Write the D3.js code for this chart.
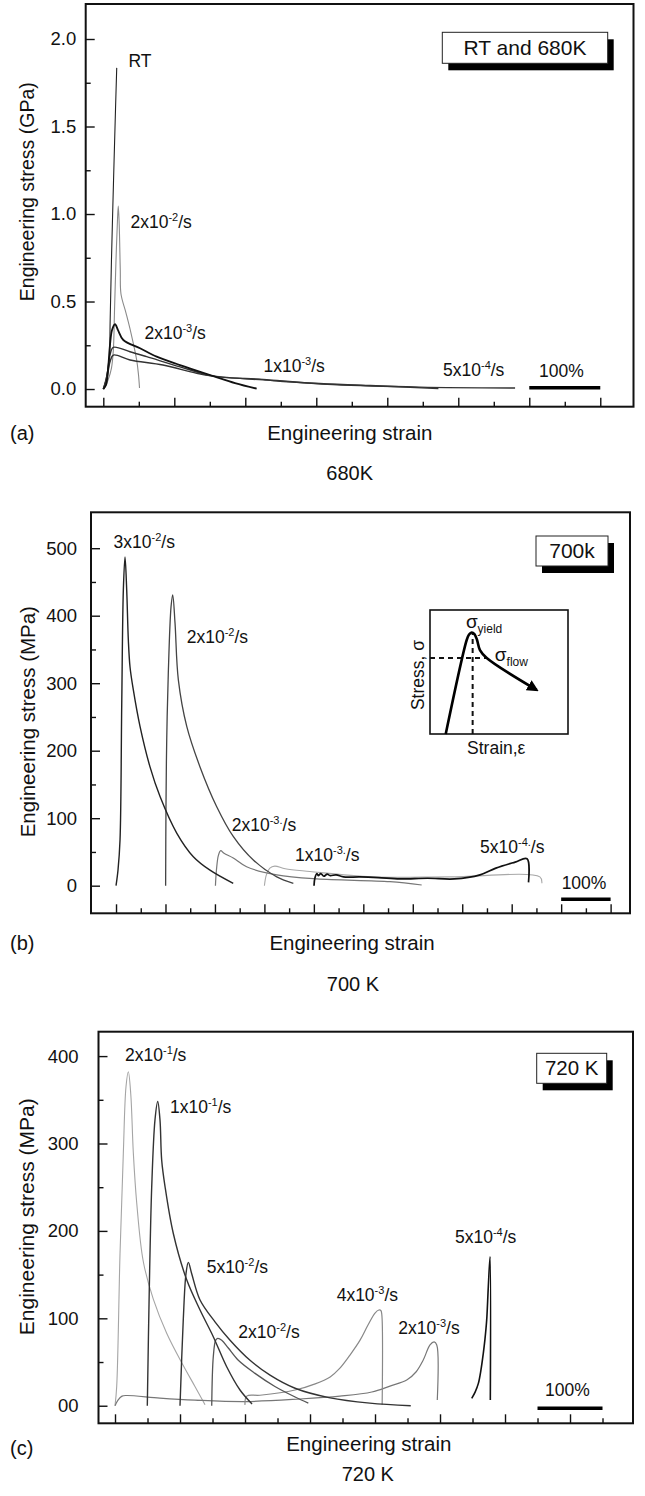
<!DOCTYPE html>
<html>
<head>
<meta charset="utf-8">
<script src="https://cdn.jsdelivr.net/npm/d3@7"></script>
<style>
  body { margin: 0; background: #fff; }
  svg { display: block; }
  text { font-family: "Liberation Sans", Arial, Helvetica, sans-serif; fill: #111; }
</style>
</head>
<body>
<svg id="chart" width="645" height="1496"></svg>
<script>
// strain in %, stress in GPa (a) or MPa (b, c)

// (a) RT and 680K
const rt680 = [[0,0],[2.5,0.03],[5,0.08],[7.5,0.14],[8.5,0.17],[9.7,0.4],[11.5,0.74],[14.4,1.19],[17.2,1.6],[18.9,1.835]];
const a2e2 = [[1,0],[6.6,0.05],[11.5,0.12],[14.1,0.22],[15.8,0.45],[17.9,0.74],[20,0.97],[21.1,1.046],[22.4,0.94],[23.9,0.68],[24.9,0.543],[32,0.434],[39,0.32],[47,0.166],[49.6,0.08],[51,0.006]];
const a2e3 = [[0,0],[3.8,0.023],[6.6,0.109],[9.4,0.251],[12.3,0.337],[16.5,0.37],[20.7,0.337],[28.2,0.28],[51.7,0.233],[75.2,0.185],[108,0.137],[155,0.074],[185.5,0.034],[216,0.002]];
const a1e3 = [[0,0],[5.2,0.08],[9.4,0.194],[14.1,0.238],[37.6,0.213],[61.1,0.185],[108,0.127],[155,0.074],[225,0.055],[296,0.033],[376,0.02],[472,0.002]];
const a5e4 = [[0,0],[5.2,0.063],[9.4,0.154],[14.1,0.194],[37.6,0.166],[84,0.137],[131.5,0.09],[155,0.074],[225,0.052],[323.5,0.026],[446,0.011],[580,0.006]];

// (b) 700 K
const b3e2 = [[0,0],[4,23],[8.1,68],[11.5,265],[14.8,438],[18.2,487],[21.6,438],[24.9,364],[28.3,324],[35,290],[48.5,236],[68.7,176],[89,132],[122.7,78],[156.3,43],[190,23],[237,3.5]];
const b2e2 = [[100.3,0],[101,117],[102.5,216],[105.7,315],[111.2,413],[114.6,431],[119.3,389],[126,305],[143,236],[169.8,176],[203.6,117],[237,73],[277.6,38],[325,13],[358.5,3.5]];
const b2e3 = [[201,0],[203,23],[207,45],[211.7,52],[218.4,48],[237,41],[264,28],[325,16],[406,10],[554,6],[618,1]];
const b1e3 = [[300,0],[304,16],[311,26],[321,29],[342,25],[392,21],[518,13],[675,13],[857,13],[861,3.5]];
const b5e4 = [[400.3,0],[402,11],[406,18],[409,15],[414,18],[420,14],[427,17],[433,15],[445,16],[460,13],[493,13],[530,12],[574,10],[630,11],[684,10],[736,16],[768,26],[807,35],[831,40],[834,5]];

// (c) 720 K
const c2e1 = [[0,0],[2.6,22],[7.7,174],[12.8,289],[16.9,365],[20.5,382],[24.2,357],[28.2,289],[33.4,232],[43.5,165],[58.9,122],[79.5,83],[105,46],[123,22],[138.5,1]];
const c1e1 = [[49.7,0],[52.8,136],[56.5,251],[61.5,327],[65.7,348],[69.2,327],[71.8,281],[76.9,251],[89.7,197],[110.3,144],[130.8,109.5],[151.2,79],[171.8,44.6],[192.3,18],[210.8,2]];
const c5e2 = [[100,0],[105,98],[109.2,151],[112.8,164],[118,151],[130.8,121],[153.8,96],[177,75],[207.7,52],[238.5,35],[277,20],[331,9],[392,3],[455,0]];
const c2e2 = [[148.8,0],[151.2,56],[154.9,75],[158,77],[164.2,75],[174.3,66],[189.7,52],[215.4,37],[246,22],[277,10],[297.4,3]];
const c4e3 = [[200,1],[202.6,11],[223,12],[277,18],[308,25],[331,33],[346,43],[361.5,58],[377,75],[389,92],[400,106],[406,109.5],[409,109],[410.5,104],[411,1]];
const c2e3 = [[0,0],[4.6,6.5],[10.8,11],[18,11.7],[69,8.8],[123,6.5],[200,4.8],[284.6,7.7],[346,11],[395,15.7],[423,22.5],[448.8,29.4],[463,38.6],[474,52],[484.6,69.5],[491,73],[495,69.5],[495.8,6.5]];
const c5e4 = [[548.8,8.5],[554,15.6],[559,25.6],[563,41],[566.6,60],[569,75],[571.8,98],[574.3,136],[577,170.5],[577.4,6.5]];

// tick values / labels
const yTicksA = [0, 0.5, 1, 1.5, 2];
const yLabelsA = ['0.0', '0.5', '1.0', '1.5', '2.0'];
const yTicksB = [0, 100, 200, 300, 400, 500];
const yLabelsB = ['0', '100', '200', '300', '400', '500'];
const yTicksC = [0, 100, 200, 300, 400];
const yLabelsC = ['00', '100', '200', '300', '400'];

// curve labels: [base, superscript, tail, strain, stress]
const labelsA = [['RT','','',35.5,1.874],['2x10','-2','/s',38.3,0.954],['2x10','-3','/s',58,0.32],['1x10','-3','/s',225.6,0.133],['5x10','-4','/s',478.5,0.109],['100%','','',613.7,0.103]];
const labelsB = [['3x10','-2','/s',-4.9,508.7],['2x10','-2','/s',143,368.9],['2x10','-3.','/s',234,90],['1x10','-3.','/s',362,45.5],['5x10','-4.','/s',736,57.8],['100%','','',901,3.6]];
const labelsC = [['2x10','-1','/s',15.4,401.3],['1x10','-1','/s',84.6,341.4],['5x10','-2','/s',141,158.4],['2x10','-2','/s',189.7,84.7],['4x10','-3','/s',341,126.7],['2x10','-3','/s',435.8,88.6],['5x10','-4','/s',523,193.4],['100%','','',661.5,18]];

// inset schematic (arbitrary units 0..10)
const insetCurve = [[1.14,0],[2.66,7.58],[2.83,8.02],[3.02,8.19],[3.22,8.06],[3.41,7.58],[3.62,6.77],[4.11,6.13],[7.73,3.55]];

const svg = d3.select('#chart');
svg.append('rect').attr('width', 645).attr('height', 1496).attr('fill', '#fff');

const panels = [
  {
    frame: { x0: 85.7, x1: 633.5, y0: 4, y1: 406.7 },
    xDomain: [-24.8, 746.8], yDomain: [-0.101, 2.2], xMax: 700,
    yTicks: yTicksA, yLabels: yLabelsA, yMinorStep: 0.25, labelPad: 9.5,
    series: [
      { d: rt680, c: '#222', w: 1.1 },
      { d: a2e2, c: '#8a8a8a', w: 1.1 },
      { d: a5e4, c: '#333', w: 1.4 },
      { d: a1e3, c: '#333', w: 1.4 },
      { d: a2e3, c: '#111', w: 1.8 }
    ],
    labels: labelsA, bar: [600, 700, 0.007],
    box: { x: 442.3, y: 32.3, w: 165.4, h: 31, text: 'RT and 680K', fs: 21 },
    yTitle: 'Engineering stress (GPa)', yTitlePos: [27, 191.7], yTitleFs: 19.5,
    xTitlePos: [349.8, 432.7], letter: '(a)', letterPos: [10, 432.7],
    caption: '680K', captionPos: [349.7, 473]
  },
  {
    frame: { x0: 91, x1: 630, y0: 512.3, y1: 913.3 },
    xDomain: [-50.6, 1039.2], yDomain: [-40.9, 553.2], xMax: 1000,
    yTicks: yTicksB, yLabels: yLabelsB, yMinorStep: 50, labelPad: 14,
    series: [
      { d: b1e3, c: '#a8a8a8', w: 1.1 },
      { d: b2e3, c: '#777', w: 1.2 },
      { d: b2e2, c: '#444', w: 1.3 },
      { d: b3e2, c: '#222', w: 1.4 },
      { d: b5e4, c: '#111', w: 1.7 }
    ],
    labels: labelsB, bar: [900, 1000, -20],
    box: { x: 536, y: 536, w: 72, h: 30, text: '700k', fs: 21 },
    yTitle: 'Engineering stress (MPa)', yTitlePos: [28, 721.7], yTitleFs: 20.5,
    xTitlePos: [352, 943.3], letter: '(b)', letterPos: [10, 943.3],
    caption: '700 K', captionPos: [353, 984.3],
    inset: { x0: 430, x1: 568, y0: 610, y1: 734 }
  },
  {
    frame: { x0: 98.5, x1: 633, y0: 1031.7, y1: 1423.3 },
    xDomain: [-25.4, 796.9], yDomain: [-20.1, 427.9], xMax: 750,
    yTicks: yTicksC, yLabels: yLabelsC, yMinorStep: 50, labelPad: 20,
    series: [
      { d: c2e1, c: '#a5a5a5', w: 1.1 },
      { d: c2e3, c: '#777', w: 1.2 },
      { d: c4e3, c: '#888', w: 1.2 },
      { d: c2e2, c: '#555', w: 1.3 },
      { d: c5e2, c: '#333', w: 1.4 },
      { d: c1e1, c: '#333', w: 1.4 },
      { d: c5e4, c: '#111', w: 1.6 }
    ],
    labels: labelsC, bar: [650, 750, -3],
    box: { x: 536.7, y: 1053.3, w: 70, h: 30, text: '720 K', fs: 20.5 },
    yTitle: 'Engineering stress (MPa)', yTitlePos: [27, 1216.7], yTitleFs: 21,
    xTitlePos: [368.8, 1444.3], letter: '(c)', letterPos: [10, 1448.3],
    caption: '720 K', captionPos: [367.8, 1474.3]
  }
];

panels.forEach(p => {
  const f = p.frame;
  const x = d3.scaleLinear().domain(p.xDomain).range([f.x0, f.x1]);
  const y = d3.scaleLinear().domain(p.yDomain).range([f.y1, f.y0]);
  const g = svg.append('g');

  // x ticks (inward, no labels)
  const xMajor = d3.range(0, p.xMax + 1, 100);
  const xMinor = d3.range(50, p.xMax + 1, 100);
  const xAx = g.append('g').attr('transform', `translate(0,${f.y1})`)
    .call(d3.axisBottom(x).tickValues(xMajor).tickSize(-9).tickSizeOuter(0).tickFormat(''));
  const xAx2 = g.append('g').attr('transform', `translate(0,${f.y1})`)
    .call(d3.axisBottom(x).tickValues(xMinor).tickSize(-5).tickSizeOuter(0).tickFormat(''));

  // y ticks (inward)
  const yMinor = d3.range(p.yTicks[0] + p.yMinorStep, p.yTicks[p.yTicks.length - 1] + p.yMinorStep * 0.5, p.yMinorStep * 2);
  const yAx = g.append('g').attr('transform', `translate(${f.x0},0)`)
    .call(d3.axisLeft(y).tickValues(p.yTicks).tickSize(-9).tickSizeOuter(0).tickPadding(p.labelPad)
      .tickFormat((d, i) => p.yLabels[i]));
  const yAx2 = g.append('g').attr('transform', `translate(${f.x0},0)`)
    .call(d3.axisLeft(y).tickValues(yMinor).tickSize(-5).tickSizeOuter(0).tickFormat(''));

  [xAx, xAx2, yAx, yAx2].forEach(a => {
    a.select('.domain').remove();
    a.selectAll('line').attr('stroke', '#111').attr('stroke-width', 1.4);
  });
  yAx.selectAll('text').attr('font-size', 18.5).attr('fill', '#111')
    .style('font-family', '"Liberation Sans", Arial, sans-serif');

  // curves, smoothed through the read points
  const line = d3.line().x(d => x(d[0])).y(d => y(d[1])).curve(d3.curveCatmullRom.alpha(0.5));
  g.append('g').selectAll('path').data(p.series).join('path')
    .attr('d', s => line(s.d))
    .attr('fill', 'none')
    .attr('stroke', s => s.c)
    .attr('stroke-width', s => s.w)
    .attr('stroke-linejoin', 'round');

  // 100% scale bar
  g.append('line')
    .attr('x1', x(p.bar[0])).attr('x2', x(p.bar[1]))
    .attr('y1', y(p.bar[2])).attr('y2', y(p.bar[2]))
    .attr('stroke', '#000').attr('stroke-width', 3.5);

  // curve labels
  p.labels.forEach(l => {
    const t = g.append('text')
      .attr('x', x(l[3])).attr('y', y(l[4]))
      .attr('dy', '0.35em')
      .attr('font-size', 17.5);
    t.append('tspan').text(l[0]);
    if (l[1]) {
      t.append('tspan').attr('font-size', 11).attr('dy', -7).text(l[1]);
      t.append('tspan').attr('dy', 7).text(l[2]);
    }
  });

  // frame
  g.append('rect')
    .attr('x', f.x0).attr('y', f.y0)
    .attr('width', f.x1 - f.x0).attr('height', f.y1 - f.y0)
    .attr('fill', 'none').attr('stroke', '#111').attr('stroke-width', 2);

  // title box with drop shadow
  const b = p.box;
  g.append('rect').attr('x', b.x + 6).attr('y', b.y + 7).attr('width', b.w).attr('height', b.h).attr('fill', '#000');
  g.append('rect').attr('x', b.x).attr('y', b.y).attr('width', b.w).attr('height', b.h)
    .attr('fill', '#fff').attr('stroke', '#222').attr('stroke-width', 1);
  g.append('text').attr('x', b.x + b.w / 2).attr('y', b.y + b.h / 2).attr('dy', '0.35em')
    .attr('text-anchor', 'middle').attr('font-size', b.fs).text(b.text);

  // axis titles and captions
  g.append('text')
    .attr('transform', `translate(${p.yTitlePos[0]},${p.yTitlePos[1]}) rotate(-90)`)
    .attr('text-anchor', 'middle').attr('dy', '0.35em').attr('font-size', p.yTitleFs)
    .text(p.yTitle);
  g.append('text').attr('x', p.xTitlePos[0]).attr('y', p.xTitlePos[1]).attr('dy', '0.35em')
    .attr('text-anchor', 'middle').attr('font-size', 20.5).text('Engineering strain');
  g.append('text').attr('x', p.letterPos[0]).attr('y', p.letterPos[1]).attr('dy', '0.35em')
    .attr('font-size', 20).text(p.letter);
  g.append('text').attr('x', p.captionPos[0]).attr('y', p.captionPos[1]).attr('dy', '0.35em')
    .attr('text-anchor', 'middle').attr('font-size', 20).text(p.caption);

  if (p.inset) drawInset(g, p.inset);
});

function drawInset(g, box) {
  const ix = d3.scaleLinear().domain([0, 10]).range([box.x0, box.x1]);
  const iy = d3.scaleLinear().domain([0, 10]).range([box.y1, box.y0]);
  const ig = g.append('g');

  ig.append('rect').attr('x', box.x0).attr('y', box.y0)
    .attr('width', box.x1 - box.x0).attr('height', box.y1 - box.y0)
    .attr('fill', '#fff').attr('stroke', '#111').attr('stroke-width', 1.6);

  const peak = insetCurve[3];
  const flow = insetCurve[7];
  ig.append('line').attr('x1', ix(0)).attr('x2', ix(flow[0]))
    .attr('y1', iy(flow[1])).attr('y2', iy(flow[1]))
    .attr('stroke', '#111').attr('stroke-width', 2).attr('stroke-dasharray', '5,4');
  ig.append('line').attr('x1', ix(3.09)).attr('x2', ix(3.09))
    .attr('y1', iy(0)).attr('y2', iy(peak[1] - 0.1))
    .attr('stroke', '#111').attr('stroke-width', 2).attr('stroke-dasharray', '5,4');

  ig.append('defs').append('marker')
    .attr('id', 'arrow').attr('viewBox', '0 0 10 10').attr('refX', 8).attr('refY', 5)
    .attr('markerWidth', 4.5).attr('markerHeight', 4.5).attr('orient', 'auto')
    .append('path').attr('d', 'M0,0L10,5L0,10z').attr('fill', '#000');

  ig.append('path')
    .attr('d', d3.line().x(d => ix(d[0])).y(d => iy(d[1])).curve(d3.curveCatmullRom.alpha(0.5))(insetCurve))
    .attr('fill', 'none').attr('stroke', '#000').attr('stroke-width', 2.6)
    .attr('marker-end', 'url(#arrow)');

  const s1 = ig.append('text').attr('x', ix(2.6)).attr('y', iy(9.05)).attr('dy', '0.35em').attr('font-size', 19);
  s1.append('tspan').text('σ');
  s1.append('tspan').attr('font-size', 12).attr('dy', 5).text('yield');
  const s2 = ig.append('text').attr('x', ix(4.7)).attr('y', iy(6.4)).attr('dy', '0.35em').attr('font-size', 19);
  s2.append('tspan').text('σ');
  s2.append('tspan').attr('font-size', 12).attr('dy', 5).text('flow');

  ig.append('text')
    .attr('transform', `translate(${box.x0 - 11.7},${(box.y0 + box.y1) / 2 + 3})rotate(-90)`)
    .attr('text-anchor', 'middle').attr('dy', '0.35em').attr('font-size', 17.5).text('Stress, σ');
  ig.append('text').attr('x', ix(4.8)).attr('y', box.y1 + 14.3).attr('dy', '0.35em')
    .attr('text-anchor', 'middle').attr('font-size', 17.5).text('Strain,ε');
}
</script>
</body>
</html>
